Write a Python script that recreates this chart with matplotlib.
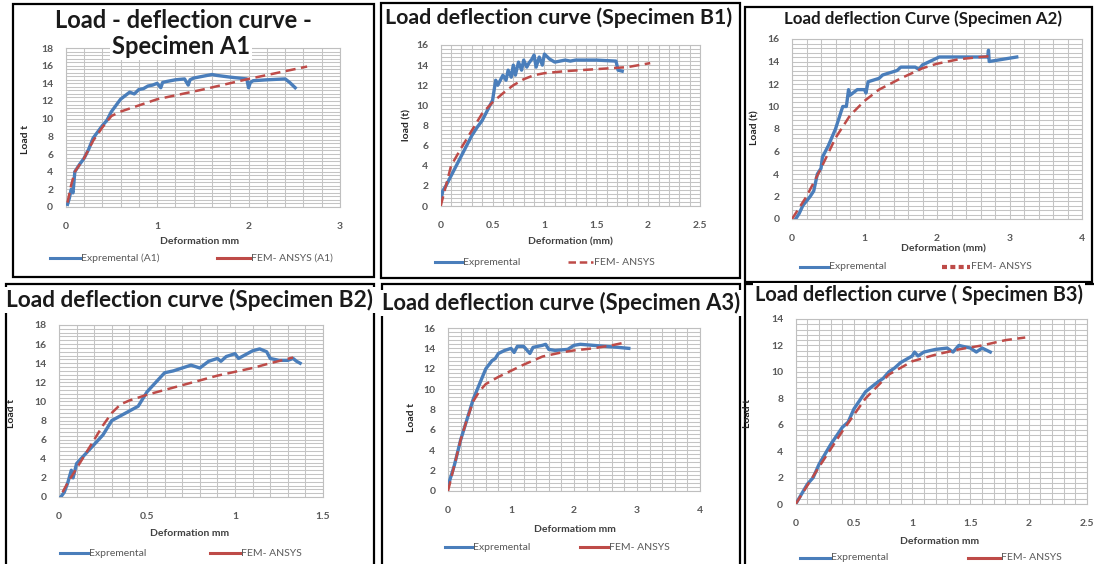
import matplotlib
matplotlib.use('Agg')
import matplotlib.pyplot as plt
from matplotlib.lines import Line2D
from matplotlib.patches import Rectangle
from matplotlib.ticker import MultipleLocator, FuncFormatter

# ---------------- data ----------------
# Specimen A1
a1_exp_x = [0.02, 0.04, 0.06, 0.08, 0.10, 0.15, 0.20, 0.25, 0.30, 0.35, 0.40, 0.45, 0.50, 0.55, 0.60, 0.65,
            0.70, 0.75, 0.80, 0.85, 0.90, 0.95, 1.00, 1.04, 1.06, 1.10, 1.20, 1.30, 1.34, 1.36, 1.40, 1.50,
            1.60, 1.65, 1.80, 1.98, 2.00, 2.02, 2.05, 2.20, 2.40, 2.45, 2.51]
a1_exp_y = [0.3, 1.0, 2.0, 1.6, 4.0, 4.8, 5.5, 6.5, 7.8, 8.5, 9.2, 9.8, 10.8, 11.5, 12.2, 12.6,
            13.0, 12.8, 13.3, 13.4, 13.7, 13.8, 14.0, 13.5, 14.1, 14.2, 14.4, 14.5, 13.8, 14.4, 14.6, 14.8,
            15.0, 14.9, 14.7, 14.5, 13.5, 14.1, 14.3, 14.4, 14.5, 14.1, 13.5]
a1_fem_x = [0.02, 0.06, 0.10, 0.20, 0.30, 0.40, 0.50, 0.60, 0.80, 1.00, 1.50, 2.00, 2.64]
a1_fem_y = [0.5, 2.5, 4.0, 5.5, 7.5, 9.0, 10.3, 10.8, 11.5, 12.2, 13.3, 14.5, 15.9]

# Specimen B1
b1_exp_x = [0.00, 0.02, 0.05, 0.10, 0.15, 0.20, 0.25, 0.30, 0.35, 0.40, 0.45, 0.50, 0.53, 0.55, 0.60, 0.63,
            0.65, 0.68, 0.70, 0.72, 0.75, 0.78, 0.80, 0.83, 0.85, 0.88, 0.90, 0.92, 0.95, 0.98, 1.00, 1.05,
            1.10, 1.20, 1.25, 1.30, 1.50, 1.69, 1.71, 1.75]
b1_exp_y = [0.5, 1.5, 2.0, 3.0, 4.0, 5.0, 6.0, 7.0, 7.8, 8.5, 9.5, 10.5, 12.5, 12.0, 13.0, 12.5,
            13.5, 12.8, 14.0, 13.0, 14.3, 13.5, 14.5, 13.8, 14.2, 14.6, 15.0, 13.8, 14.8, 14.0, 15.1, 14.6,
            14.3, 14.5, 14.4, 14.5, 14.5, 14.4, 13.5, 13.4]
b1_fem_x = [0.00, 0.05, 0.10, 0.20, 0.30, 0.40, 0.50, 0.60, 0.70, 0.80, 0.90, 1.00, 1.20, 1.50, 1.80, 2.02]
b1_fem_y = [0.0, 2.0, 4.0, 5.8, 7.5, 9.2, 10.3, 11.2, 12.0, 12.6, 13.0, 13.2, 13.4, 13.6, 13.8, 14.2]

# Specimen A2
a2_exp_x = [0.05, 0.10, 0.15, 0.25, 0.30, 0.35, 0.40, 0.42, 0.50, 0.60, 0.65, 0.70, 0.75, 0.78, 0.80, 0.90,
            1.00, 1.02, 1.05, 1.20, 1.25, 1.35, 1.45, 1.50, 1.70, 1.75, 1.80, 1.90, 2.03, 2.50, 2.70, 2.71,
            2.72, 3.10]
a2_exp_y = [0.0, 0.5, 1.2, 2.0, 2.5, 4.0, 4.5, 5.5, 6.5, 8.0, 9.0, 10.0, 10.0, 11.5, 11.0, 11.5,
            11.5, 11.2, 12.2, 12.5, 12.8, 13.0, 13.2, 13.5, 13.5, 13.3, 13.7, 14.0, 14.4, 14.4, 14.4, 15.0,
            14.0, 14.4]
a2_fem_x = [0.00, 0.20, 0.40, 0.60, 0.80, 1.00, 1.20, 1.50, 1.80, 2.00, 2.30, 2.60, 2.78]
a2_fem_y = [0.0, 2.0, 4.5, 7.2, 9.2, 10.5, 11.5, 12.5, 13.4, 13.8, 14.2, 14.4, 14.5]

# Specimen B2
b2_exp_x = [0.01, 0.03, 0.05, 0.07, 0.08, 0.10, 0.15, 0.20, 0.25, 0.30, 0.35, 0.40, 0.45, 0.50, 0.55, 0.60,
            0.65, 0.70, 0.75, 0.80, 0.85, 0.90, 0.92, 0.95, 1.00, 1.02, 1.05, 1.10, 1.14, 1.18, 1.20, 1.25,
            1.30, 1.33, 1.35, 1.37]
b2_exp_y = [0.0, 0.5, 1.5, 2.8, 2.0, 3.5, 4.5, 5.5, 6.5, 8.0, 8.5, 9.0, 9.5, 11.0, 12.0, 13.0,
            13.2, 13.5, 13.8, 13.5, 14.2, 14.5, 14.2, 14.7, 15.0, 14.5, 14.8, 15.3, 15.5, 15.2, 14.5, 14.3,
            14.3, 14.5, 14.2, 14.0]
b2_fem_x = [0.02, 0.05, 0.10, 0.15, 0.20, 0.25, 0.30, 0.35, 0.40, 0.50, 0.60, 0.70, 0.80, 0.90, 1.00, 1.10,
            1.20, 1.33]
b2_fem_y = [0.5, 1.5, 3.0, 4.5, 6.0, 7.5, 8.8, 9.7, 10.1, 10.7, 11.2, 11.7, 12.2, 12.7, 13.1, 13.5,
            14.0, 14.6]

# Specimen A3
a3_exp_x = [0.00, 0.10, 0.20, 0.30, 0.40, 0.50, 0.60, 0.70, 0.75, 0.80, 0.90, 1.00, 1.05, 1.10, 1.20, 1.30,
            1.35, 1.50, 1.55, 1.60, 1.70, 1.90, 2.00, 2.10, 2.30, 2.50, 2.70, 2.87]
a3_exp_y = [0.5, 2.5, 5.0, 7.0, 9.0, 10.5, 12.0, 12.8, 13.0, 13.5, 13.8, 14.0, 13.6, 14.2, 14.2, 13.5,
            14.1, 14.3, 14.4, 13.9, 13.8, 13.9, 14.3, 14.4, 14.3, 14.2, 14.1, 14.0]
a3_fem_x = [0.00, 0.10, 0.20, 0.30, 0.40, 0.50, 0.60, 0.80, 1.00, 1.20, 1.50, 1.80, 2.00, 2.30, 2.60, 2.83]
a3_fem_y = [0.0, 2.5, 5.0, 7.0, 8.8, 9.8, 10.5, 11.2, 11.8, 12.4, 13.2, 13.6, 13.8, 14.0, 14.3, 14.6]

# Specimen B3
b3_exp_x = [0.00, 0.10, 0.15, 0.20, 0.30, 0.40, 0.45, 0.50, 0.60, 0.70, 0.75, 0.80, 0.85, 0.90, 1.00, 1.02,
            1.05, 1.10, 1.20, 1.30, 1.35, 1.40, 1.45, 1.50, 1.55, 1.60, 1.67]
b3_exp_y = [0.0, 1.5, 2.0, 3.0, 4.5, 5.8, 6.2, 7.2, 8.5, 9.2, 9.5, 10.0, 10.3, 10.7, 11.2, 11.5,
            11.2, 11.5, 11.7, 11.8, 11.5, 12.0, 11.9, 11.8, 11.5, 11.8, 11.5]
b3_fem_x = [0.00, 0.20, 0.40, 0.60, 0.80, 1.00, 1.20, 1.40, 1.60, 1.80, 1.97]
b3_fem_y = [0.0, 2.8, 5.5, 8.0, 9.8, 10.8, 11.3, 11.7, 12.0, 12.4, 12.6]

# ---------------- figure ----------------
W, H = 1094, 564
plt.rcParams['font.family'] = ['Lato', 'DejaVu Sans']
fig = plt.figure(figsize=(W / 100, H / 100), dpi=100)
fig.patch.set_facecolor('white')


def FX(px):
    return px / W


def FY(py):
    return 1 - py / H


BLUE = '#4a7ebb'
RED = '#be4b48'
GRID = '#c4c4c4'
TICKC = '#595959'

panels = [
    dict(ax=(65.7, 340, 48, 207), xmax=3, xmaj=1, ymax=18,
         ex=a1_exp_x, ey=a1_exp_y, fx=a1_fem_x, fy=a1_fem_y,
         frame=(13, 374, 4, 277),
         title=[('Load - deflection curve -', 183, 21, 17), ('Specimen A1', 181, 46, 17)],
         xlabel=('Deformation mm', 200, 242), ylabel=('Load t', 25, 140),
         leg=dict(y=258, b=(50, 80), bt='Expremental (A1)', r=(217, 250), rt='FEM- ANSYS (A1)', rstyle='solid')),
    dict(ax=(440.7, 700, 45, 206), xmax=2.5, xmaj=0.5, ymax=16,
         ex=b1_exp_x, ey=b1_exp_y, fx=b1_fem_x, fy=b1_fem_y,
         frame=(381, 740, 3, 278),
         title=[('Load deflection curve (Specimen B1)', 559, 18, 15.4)],
         xlabel=('Deformation (mm)', 570, 242), ylabel=('load (t)', 407, 125),
         leg=dict(y=262, b=(435, 462), bt='Expremental', r=(568, 593), rt='FEM- ANSYS', rstyle='dash')),
    dict(ax=(792, 1082, 39, 219), xmax=4, xmaj=1, ymax=16,
         ex=a2_exp_x, ey=a2_exp_y, fx=a2_fem_x, fy=a2_fem_y,
         frame=(745, 1092, 7, 282),
         title=[('Load deflection Curve (Specimen A2)', 923, 19, 12.2)],
         xlabel=('Deformation (mm)', 943, 249), ylabel=('Load (t)', 755, 128),
         leg=dict(y=267, b=(800, 828), bt='Expremental', r=(942, 970), rt='FEM- ANSYS', rstyle='dot')),
    dict(ax=(59, 323, 325, 497), xmax=1.5, xmaj=0.5, ymax=18,
         ex=b2_exp_x, ey=b2_exp_y, fx=b2_fem_x, fy=b2_fem_y,
         frame=(6, 374, 284, 566),
         title=[('Load deflection curve (Specimen B2)', 190, 300, 16.3)],
         xlabel=('Deformation mm', 190, 533), ylabel=('Load t', 11, 413),
         leg=dict(y=553, b=(60, 88), bt='Expremental', r=(210, 240), rt='FEM- ANSYS', rstyle='solid')),
    dict(ax=(448, 700, 328, 491), xmax=4, xmaj=1, ymax=16,
         ex=a3_exp_x, ey=a3_exp_y, fx=a3_fem_x, fy=a3_fem_y,
         frame=(382, 740, 284, 566),
         title=[('Load deflection curve (Specimen A3)', 561, 303, 15.8)],
         xlabel=('Deformatiom mm', 575, 530), ylabel=('Load t', 412, 417),
         leg=dict(y=547, b=(445, 472), bt='Expremental', r=(580, 608), rt='FEM- ANSYS', rstyle='solid')),
    dict(ax=(795.7, 1087, 319, 504), xmax=2.5, xmaj=0.5, ymax=14,
         ex=b3_exp_x, ey=b3_exp_y, fx=b3_fem_x, fy=b3_fem_y,
         frame=(745, 1100, 284, 566),
         title=[('Load deflection curve ( Specimen B3)', 919, 295, 14.3)],
         xlabel=('Deformation mm', 940, 541), ylabel=('Load t', 747, 413),
         leg=dict(y=558, b=(800, 830), bt='Expremental', r=(968, 1000), rt='FEM- ANSYS', rstyle='solid')),
]

fmt = FuncFormatter(lambda v, p: ('%g' % v))

for P in panels:
    l, r, t, b = P['ax']
    ax = fig.add_axes([FX(l), FY(b), (r - l) / W, (b - t) / H])
    ax.set_xlim(0, P['xmax'])
    ax.set_ylim(0, P['ymax'])
    ax.xaxis.set_major_locator(MultipleLocator(P['xmaj']))
    ax.xaxis.set_minor_locator(MultipleLocator(P['xmaj'] / 5))
    ax.yaxis.set_major_locator(MultipleLocator(2))
    ax.yaxis.set_minor_locator(MultipleLocator(0.4))
    ax.xaxis.set_major_formatter(fmt)
    ax.yaxis.set_major_formatter(fmt)
    ax.grid(True, which='both', color=GRID, lw=0.75)
    ax.set_axisbelow(True)
    ax.tick_params(which='both', length=0)
    ax.tick_params(axis='x', pad=11, labelsize=7.5, labelcolor=TICKC)
    ax.tick_params(axis='y', pad=9, labelsize=7.5, labelcolor=TICKC)
    for lab in ax.get_xticklabels() + ax.get_yticklabels():
        lab.set_fontweight('bold')
    for s in ax.spines.values():
        s.set_color('#bfbfbf')
        s.set_linewidth(0.8)
    ax.plot(P['ex'], P['ey'], color=BLUE, lw=2.4, solid_joinstyle='round', zorder=3)
    ax.plot(P['fx'], P['fy'], color=RED, lw=1.8, dashes=(4, 2.2), zorder=4)

    # frame
    fl, fr, ft, fb = P['frame']
    fig.add_artist(Rectangle((FX(fl), FY(fb)), (fr - fl) / W, (fb - ft) / H,
                             transform=fig.transFigure, fill=False, ec='black', lw=1.6, zorder=1))
    # title
    for txt, cx, cy, fs in P['title']:
        fig.text(FX(cx), FY(cy), txt, ha='center', va='center', fontsize=fs, fontweight='bold',
                 color='#1a1a1a', zorder=5,
                 bbox=dict(boxstyle='square,pad=0.1', fc='white', ec='none'))
    # axis labels
    txt, cx, cy = P['xlabel']
    fig.text(FX(cx), FY(cy), txt, ha='center', va='center', fontsize=7.5, fontweight='bold', color='#404040')
    txt, cx, cy = P['ylabel']
    fig.text(FX(cx), FY(cy), txt, ha='center', va='center', fontsize=7.5, fontweight='bold', color='#262626',
             rotation=90)
    # legend
    L = P['leg']
    y = FY(L['y'])
    fig.add_artist(Line2D([FX(L['b'][0]), FX(L['b'][1])], [y, y], transform=fig.transFigure,
                          color=BLUE, lw=2.2))
    fig.text(FX(L['b'][1] + 1), y, L['bt'], ha='left', va='center', fontsize=7.5, color='#595959')
    if L['rstyle'] == 'solid':
        fig.add_artist(Line2D([FX(L['r'][0]), FX(L['r'][1])], [y, y], transform=fig.transFigure,
                              color=RED, lw=2.2))
    elif L['rstyle'] == 'dash':
        fig.add_artist(Line2D([FX(L['r'][0]), FX(L['r'][1])], [y, y], transform=fig.transFigure,
                              color=RED, lw=1.8, dashes=(3, 1.5)))
    else:
        fig.add_artist(Line2D([FX(L['r'][0]), FX(L['r'][1])], [y, y], transform=fig.transFigure,
                              color=RED, lw=3.0, dashes=(1.2, 0.8)))
    fig.text(FX(L['r'][1] + 1), y, L['rt'], ha='left', va='center', fontsize=7.5, color='#595959')

fig.savefig('out.png', dpi=100, facecolor='white')
